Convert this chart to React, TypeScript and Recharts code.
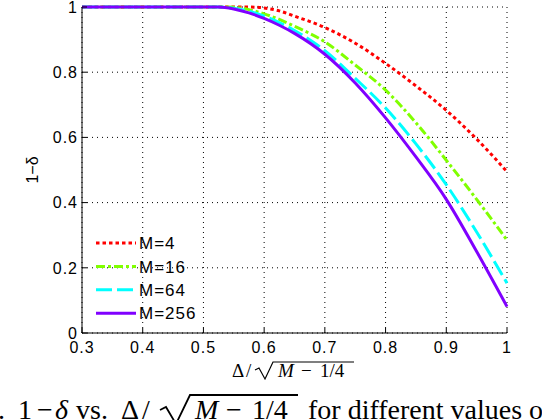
import { CartesianGrid, Line, LineChart, XAxis, YAxis } from "recharts";

const xValues = [0.3, 0.35, 0.4, 0.45, 0.5, 0.525, 0.55, 0.575, 0.6, 0.625, 0.65, 0.7, 0.75, 0.8, 0.85, 0.9, 0.95, 1];
const m4 = [1, 1, 1, 1, 1, 1, 1, 1, 0.997, 0.988, 0.972, 0.937, 0.889, 0.827, 0.758, 0.683, 0.595, 0.495];
const m16 = [1, 1, 1, 1, 1, 1, 0.999, 0.992, 0.979, 0.962, 0.941, 0.893, 0.822, 0.745, 0.645, 0.53, 0.41, 0.285];
const m64 = [1, 1, 1, 1, 1, 1, 0.996, 0.987, 0.972, 0.952, 0.928, 0.866, 0.781, 0.69, 0.58, 0.455, 0.31, 0.153];
const m256 = [1, 1, 1, 1, 1, 1, 0.994, 0.982, 0.965, 0.944, 0.919, 0.855, 0.767, 0.66, 0.54, 0.41, 0.25, 0.081];

const xTicks = [0.3, 0.4, 0.5, 0.6, 0.7, 0.8, 0.9, 1];
const yTicks = [0, 0.2, 0.4, 0.6, 0.8, 1];

// MATLAB-ish line specs: ':' '-.' '--' '-'
const SERIES = [
  { key: "m4", label: "M=4", color: "#ff0000", dash: "3.5 3" },
  { key: "m16", label: "M=16", color: "#80ff00", dash: "9 3 3 3" },
  { key: "m64", label: "M=64", color: "#00ffff", dash: "16 5" },
  { key: "m256", label: "M=256", color: "#8000ff", dash: undefined },
];

const rows = xValues.map((x, i) => ({ x, m4: m4[i], m16: m16[i], m64: m64[i], m256: m256[i] }));

const sans = "Liberation Sans, Arial, sans-serif";
const serif = "Liberation Serif, Times New Roman, serif";

const fmt = (v: number) => (v === 0 || v === 1 ? String(v) : v.toFixed(1));

function XTick(props: any) {
  const { x, y, payload } = props;
  return (
    <g>
      <line x1={x} x2={x} y1={y} y2={y - 5} stroke="#000" />
      <text x={x} y={y + 20} textAnchor="middle" fill="#000" fontFamily={sans} fontSize={16} letterSpacing={1}>
        {fmt(payload.value)}
      </text>
    </g>
  );
}

function YTick(props: any) {
  const { x, y, payload } = props;
  return (
    <g>
      <line x1={x} x2={x + 5} y1={y} y2={y} stroke="#000" />
      <text x={x - 4} y={y} dy="0.36em" textAnchor="end" fill="#000" fontFamily={sans} fontSize={16} letterSpacing={1}>
        {fmt(payload.value)}
      </text>
    </g>
  );
}

export default function App() {
  return (
    <div style={{ position: "absolute", left: 0, top: 0, width: 542, height: 420, overflow: "hidden", background: "#fff" }}>
      <LineChart width={542} height={420} data={rows} margin={{ top: 7, right: 35, bottom: 57, left: 0 }}>
        <CartesianGrid stroke="#000" strokeDasharray="1 4" strokeWidth={1} />
        <XAxis
          dataKey="x"
          type="number"
          domain={[0.3, 1]}
          ticks={xTicks}
          tick={<XTick />}
          tickLine={false}
          tickSize={0}
          tickMargin={0}
          height={30}
          stroke="#000"
          interval={0}
        />
        <YAxis
          type="number"
          domain={[0, 1]}
          ticks={yTicks}
          width={82}
          tick={<YTick />}
          tickLine={false}
          tickSize={0}
          tickMargin={0}
          stroke="#000"
          interval={0}
        />
        {SERIES.map((s) => (
          <Line
            key={s.key}
            type="monotone"
            dataKey={s.key}
            stroke={s.color}
            strokeWidth={3}
            strokeDasharray={s.dash}
            dot={false}
            isAnimationActive={false}
          />
        ))}
      </LineChart>
      <svg width={542} height={420} style={{ position: "absolute", left: 0, top: 0, pointerEvents: "none" }}>
        {/* legend, no frame */}
        {SERIES.map((s, i) => {
          const cy = 243 + i * 23.4;
          return (
            <g key={s.key}>
              <line x1={96} x2={136} y1={cy} y2={cy} stroke={s.color} strokeWidth={3} strokeDasharray={s.dash} />
              <text x={139} y={cy} dy="0.36em" fill="#000" fontFamily={sans} fontSize={17} letterSpacing={1}>
                {s.label}
              </text>
            </g>
          );
        })}
        <text transform="translate(38,170) rotate(-90)" textAnchor="middle" fill="#000" fontFamily={sans} fontSize={16}>
          1−δ
        </text>
        {/* x-axis label: Δ/√(M − 1/4) */}
        <g fontFamily={serif} fontSize={19} fill="#000">
          <text x={232} y={377}>Δ</text>
          <text x={246} y={377}>/</text>
          <polyline points="255,370 259,368 265,379 273,362 354,362" fill="none" stroke="#000" strokeWidth={1.2} />
          <text x={278} y={377} fontStyle="italic">M</text>
          <text x={301} y={377}>−</text>
          <text x={320} y={377}>1/4</text>
        </g>
        {/* figure caption, cut by the page edge */}
        <g fontFamily={serif} fontSize={28} fill="#000">
          <text x={5} y={419} textAnchor="end">Fig. 1.</text>
          <text x={18} y={419}>1</text>
          <text x={37} y={419}>−</text>
          <text x={55} y={419} fontStyle="italic">δ</text>
          <text x={76} y={419}>vs.</text>
          <text x={121} y={419}>Δ</text>
          <text x={142} y={419}>/</text>
          <polyline points="160,410 166,407 176,424 190,395 298,395" fill="none" stroke="#000" strokeWidth={1.8} />
          <text x={195} y={419} fontStyle="italic">M</text>
          <text x={226} y={419}>−</text>
          <text x={252} y={419}>1/4</text>
          <text x={308} y={419}>for different values of</text>
        </g>
      </svg>
    </div>
  );
}
